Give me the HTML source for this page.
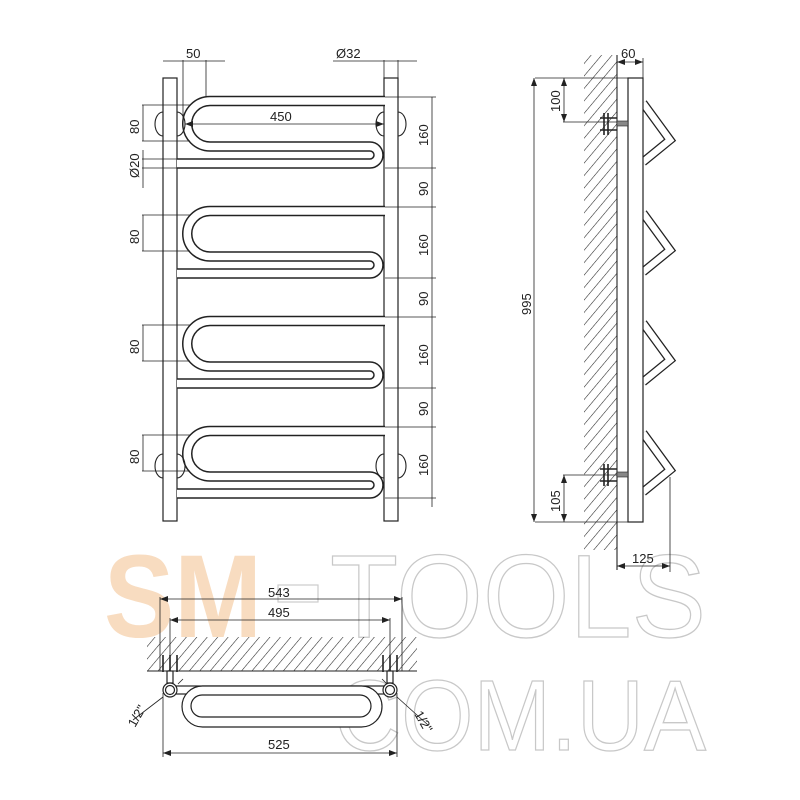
<!DOCTYPE html>
<html><head><meta charset="utf-8"><style>
html,body{margin:0;padding:0;background:#fff;}
svg{display:block;}
text{font-family:"Liberation Sans",Arial,sans-serif;font-size:13px;fill:#222;}
</style></head><body>
<svg width="800" height="800" viewBox="0 0 800 800" xmlns="http://www.w3.org/2000/svg">
<defs>
<pattern id="h" width="8" height="8" patternUnits="userSpaceOnUse" patternTransform="rotate(40)">
<line x1="0" y1="0" x2="0" y2="8" stroke="#222" stroke-width="1.1"/>
</pattern>
<marker id="a" markerWidth="8" markerHeight="6" refX="8" refY="3" orient="auto-start-reverse" markerUnits="userSpaceOnUse">
<path d="M0,0 L8,3 L0,6 z" fill="#222"/>
</marker>
<g id="sec">
<path d="M385,101 H210 A22.75,22.75 0 0 0 210,146.5 H370 A8.5,8.5 0 0 1 370,163.5 H177" fill="none" stroke="#222" stroke-width="10.5"/>
<path d="M385,101 H210 A22.75,22.75 0 0 0 210,146.5 H370 A8.5,8.5 0 0 1 370,163.5 H177" fill="none" stroke="#fff" stroke-width="7.5"/>
</g>
<g id="br">
<path d="M643,0 L670,37 L643,59" fill="none" stroke="#222" stroke-width="9"/>
<path d="M643,0 L670,37 L643,59" fill="none" stroke="#fff" stroke-width="6.5"/>
</g>
</defs>

<!-- watermark -->
<text x="104" y="637" textLength="158" lengthAdjust="spacingAndGlyphs" style="font-size:118px;font-weight:bold;fill:#f8dcc0;">SM</text>
<rect x="278" y="585" width="40" height="17" fill="none" stroke="#ccc" stroke-width="1.2"/>
<text x="330" y="637" textLength="376" lengthAdjust="spacingAndGlyphs" style="font-size:118px;fill:none;stroke:#c8c8c8;stroke-width:1.3;">TOOLS</text>
<text x="334" y="750" textLength="372" lengthAdjust="spacingAndGlyphs" style="font-size:100px;fill:none;stroke:#c8c8c8;stroke-width:1.3;">COM.UA</text>

<g stroke="#222" fill="none" stroke-width="1.2">
<rect x="163" y="78" width="14" height="443" fill="#fff"/>
<rect x="384" y="78" width="14" height="443" fill="#fff"/>
</g>
<use href="#sec" y="0"/>
<use href="#sec" y="110"/>
<use href="#sec" y="220"/>
<use href="#sec" y="330"/>
<g stroke="#222" fill="none" stroke-width="1.1">
<path d="M163,112 A8,12 0 0 0 163,136"/><path d="M177,112 A8,12 0 0 1 177,136"/>
<path d="M384,112 A8,12 0 0 0 384,136"/><path d="M398,112 A8,12 0 0 1 398,136"/>
<path d="M163,454 A8,12 0 0 0 163,478"/><path d="M177,454 A8,12 0 0 1 177,478"/>
<path d="M384,454 A8,12 0 0 0 384,478"/><path d="M398,454 A8,12 0 0 1 398,478"/>
</g>
<g stroke="#222" stroke-width="0.8" fill="none">
<line x1="183" y1="60" x2="183" y2="120"/><line x1="206" y1="60" x2="206" y2="97"/>
<line x1="163" y1="61" x2="225" y2="61"/>
<line x1="384" y1="60" x2="384" y2="78"/><line x1="398" y1="60" x2="398" y2="78"/>
<line x1="333" y1="61" x2="417" y2="61"/>
<line x1="185" y1="124" x2="384" y2="124" marker-start="url(#a)" marker-end="url(#a)"/>
<line x1="432" y1="97" x2="432" y2="507"/>
<line x1="385" y1="97" x2="436" y2="97"/>
<line x1="385" y1="168" x2="436" y2="168"/><line x1="385" y1="207" x2="436" y2="207"/>
<line x1="385" y1="278" x2="436" y2="278"/><line x1="385" y1="317" x2="436" y2="317"/>
<line x1="385" y1="388" x2="436" y2="388"/><line x1="385" y1="427" x2="436" y2="427"/>
<line x1="385" y1="498" x2="436" y2="498"/>
<line x1="142" y1="105" x2="190" y2="105"/><line x1="142" y1="141" x2="190" y2="141"/>
<line x1="143" y1="105" x2="143" y2="141"/>
<line x1="142" y1="159" x2="177" y2="159"/><line x1="142" y1="168" x2="177" y2="168"/>
<line x1="143" y1="150" x2="143" y2="188"/>
<line x1="142" y1="215" x2="190" y2="215"/><line x1="142" y1="251" x2="190" y2="251"/><line x1="143" y1="215" x2="143" y2="251"/>
<line x1="142" y1="325" x2="190" y2="325"/><line x1="142" y1="361" x2="190" y2="361"/><line x1="143" y1="325" x2="143" y2="361"/>
<line x1="142" y1="435" x2="190" y2="435"/><line x1="142" y1="471" x2="190" y2="471"/><line x1="143" y1="435" x2="143" y2="471"/>
</g>
<text x="186" y="58">50</text>
<text x="336" y="58">Ø32</text>
<text x="270" y="121">450</text>
<g>
<text transform="translate(428,146) rotate(-90)">160</text>
<text transform="translate(428,196) rotate(-90)">90</text>
<text transform="translate(428,256) rotate(-90)">160</text>
<text transform="translate(428,306) rotate(-90)">90</text>
<text transform="translate(428,366) rotate(-90)">160</text>
<text transform="translate(428,416) rotate(-90)">90</text>
<text transform="translate(428,476) rotate(-90)">160</text>
<text transform="translate(139,134) rotate(-90)">80</text>
<text transform="translate(139,178) rotate(-90)">Ø20</text>
<text transform="translate(139,244) rotate(-90)">80</text>
<text transform="translate(139,354) rotate(-90)">80</text>
<text transform="translate(139,464) rotate(-90)">80</text>
</g>

<!-- side view -->
<rect x="584" y="55" width="33" height="495" fill="url(#h)"/>
<line x1="617" y1="55" x2="617" y2="570" stroke="#222" stroke-width="1.1"/>
<use href="#br" y="103"/><use href="#br" y="213"/><use href="#br" y="323"/><use href="#br" y="433"/>
<rect x="628" y="78" width="15" height="444" fill="#fff" stroke="#222" stroke-width="1.2"/>
<g stroke="#222" stroke-width="1.6" fill="none">
<path d="M600,118 H617 M600,130 H617 M604,113 V135 M608,113 V135"/>
<path d="M600,469 H617 M600,481 H617 M604,464 V486 M608,464 V486"/>
</g>
<rect x="617" y="121" width="11" height="5" fill="#888" stroke="#222" stroke-width="0.6"/>
<rect x="617" y="472" width="11" height="5" fill="#888" stroke="#222" stroke-width="0.6"/>
<g stroke="#222" stroke-width="0.8" fill="none">
<line x1="535" y1="78" x2="628" y2="78"/>
<line x1="535" y1="522" x2="628" y2="522"/>
<line x1="534" y1="78" x2="534" y2="522" marker-start="url(#a)" marker-end="url(#a)"/>
<line x1="563" y1="122" x2="617" y2="122"/>
<line x1="564" y1="78" x2="564" y2="122" marker-start="url(#a)" marker-end="url(#a)"/>
<line x1="563" y1="475" x2="617" y2="475"/>
<line x1="564" y1="475" x2="564" y2="522" marker-start="url(#a)" marker-end="url(#a)"/>
<line x1="643" y1="58" x2="643" y2="78"/>
<line x1="617" y1="62" x2="643" y2="62" marker-start="url(#a)" marker-end="url(#a)"/>
<line x1="670" y1="477" x2="670" y2="572"/>
<line x1="617" y1="566" x2="670" y2="566" marker-start="url(#a)" marker-end="url(#a)"/>
</g>
<text x="621" y="58">60</text>
<text transform="translate(531,315) rotate(-90)">995</text>
<text transform="translate(560,112) rotate(-90)">100</text>
<text transform="translate(560,512) rotate(-90)">105</text>
<text x="632" y="563">125</text>

<!-- bottom view -->
<rect x="147" y="637" width="270" height="34" fill="url(#h)"/>
<line x1="147" y1="671" x2="417" y2="671" stroke="#222" stroke-width="1.1"/>
<g stroke="#222" stroke-width="0.8" fill="none">
<line x1="160" y1="597" x2="160" y2="671"/><line x1="402" y1="597" x2="402" y2="671"/>
<line x1="160" y1="599" x2="402" y2="599" marker-start="url(#a)" marker-end="url(#a)"/>
<line x1="170" y1="618" x2="170" y2="671"/><line x1="390" y1="618" x2="390" y2="671"/>
<line x1="170" y1="620" x2="390" y2="620" marker-start="url(#a)" marker-end="url(#a)"/>
<line x1="163" y1="693" x2="163" y2="757"/><line x1="397" y1="693" x2="397" y2="757"/>
<line x1="163" y1="753" x2="397" y2="753" marker-start="url(#a)" marker-end="url(#a)"/>
<line x1="133" y1="720" x2="163" y2="697"/><line x1="428" y1="725" x2="397" y2="697"/>
<line x1="178" y1="684" x2="183" y2="679"/><line x1="382" y1="679" x2="387" y2="684"/>
</g>
<text x="268" y="597">543</text>
<text x="268" y="617">495</text>
<text x="268" y="749">525</text>
<text transform="translate(135,728) rotate(-60)">1/2"</text>
<text transform="translate(414,714) rotate(60)">1/2"</text>
<g stroke="#222" stroke-width="1.6" fill="none">
<path d="M163,655 V672 M170,655 V672 M177,655 V672 M383,655 V672 M390,655 V672 M397,655 V672"/>
</g>
<g stroke="#222" stroke-width="1.2" fill="#fff">
<rect x="167" y="671" width="6" height="12"/><rect x="387" y="671" width="6" height="12"/>
<rect x="170" y="686" width="220" height="8"/>
<rect x="182" y="686" width="200" height="41" rx="20.5"/>
<rect x="191" y="695" width="180" height="22" rx="11"/>
<circle cx="170" cy="690" r="7"/><circle cx="170" cy="690" r="4.5"/>
<circle cx="390" cy="690" r="7"/><circle cx="390" cy="690" r="4.5"/>
</g>
</svg>
</body></html>
